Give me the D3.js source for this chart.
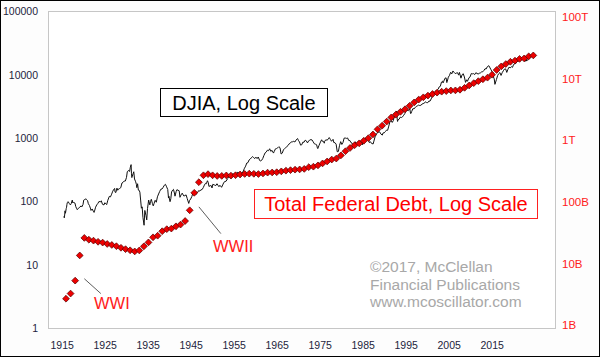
<!DOCTYPE html>
<html><head><meta charset="utf-8">
<script src="https://cdn.jsdelivr.net/npm/d3@7"></script>
<style>
html,body{margin:0;padding:0;background:#fdfdfd;}
svg{display:block;font-family:Arial,"Liberation Sans",sans-serif;}
</style></head><body>
<svg id="chart" width="600" height="357"></svg>
<script>
// ---------- DATA ----------
const xTickLabels = ["1915","1925","1935","1945","1955","1965","1975","1985","1995","2005","2015"];
const leftTickValues = [1, 10, 100, 1000, 10000, 100000];
const rightTickValues = [1e9, 1e10, 1e11, 1e12, 1e13, 1e14];
const rightTickLabels = ["1B", "10B", "100B", "1T", "10T", "100T"];

const debtYears = [1915,1916,1917,1918,1919,1920,1921,1922,1923,1924,1925,1926,1927,1928,1929,
1930,1931,1932,1933,1934,1935,1936,1937,1938,1939,1940,1941,1942,1943,1944,1945,1946,1947,1948,1949,
1950,1951,1952,1953,1954,1955,1956,1957,1958,1959,1960,1961,1962,1963,1964,1965,1966,1967,1968,1969,
1970,1971,1972,1973,1974,1975,1976,1977,1978,1979,1980,1981,1982,1983,1984,1985,1986,1987,1988,1989,
1990,1991,1992,1993,1994,1995,1996,1997,1998,1999,2000,2001,2002,2003,2004,2005,2006,2007,2008,2009,
2010,2011,2012,2013,2014,2015,2016,2017];
// billions of dollars
const debtBillions = [2.9,3.5,5.6,14.0,26.5,24.8,24.0,23.0,22.35,21.25,20.5,19.6,18.5,17.6,16.9,
16.2,16.8,19.5,22.5,27.1,28.7,33.8,36.4,37.2,40.4,43.0,49.0,72.4,136.7,201.0,258.7,269.4,258.3,252.3,252.8,
257.4,255.2,259.1,266.1,271.3,274.4,272.8,270.5,276.3,284.7,286.3,289.0,298.2,305.9,311.7,317.3,319.9,326.2,347.6,353.7,
370.9,398.1,427.3,458.1,475.1,533.2,620.4,698.8,771.5,826.5,907.7,997.9,1142,1377,1572,1823,2125,2350,2602,2857,
3233,3665,4065,4411,4693,4974,5225,5413,5526,5656,5674,5807,6228,6783,7379,7933,8507,9008,10025,11910,
13562,14790,16066,16738,17824,18151,19573,20245];

const djiaDates = [
"1915-01","1915-02","1915-03","1915-04","1915-05","1915-06","1915-07","1915-08","1915-09","1915-10","1915-11","1915-12",
"1916-03","1916-06","1916-08","1916-11","1916-12",
"1917-01","1917-03","1917-06","1917-08","1917-10","1917-12",
"1918-03","1918-05","1918-07","1918-10","1918-12",
"1919-03","1919-05","1919-07","1919-09","1919-11","1919-12",
"1920-03","1920-05","1920-08","1920-11","1920-12",
"1921-03","1921-06","1921-08","1921-10","1921-12",
"1922-03","1922-06","1922-09","1922-12",
"1923-03","1923-06","1923-10","1923-12",
"1924-03","1924-05","1924-08","1924-12",
"1925-03","1925-06","1925-09","1925-12",
"1926-02","1926-03","1926-05","1926-08","1926-10","1926-12",
"1927-03","1927-06","1927-09","1927-12",
"1928-03","1928-06","1928-09","1928-11","1928-12",
"1929-03","1929-05","1929-07","1929-09","1929-10","1929-11","1929-12",
"1930-02","1930-04","1930-06","1930-09","1930-11","1930-12",
"1931-02","1931-04","1931-06","1931-08","1931-10","1931-12",
"1932-02","1932-04","1932-07","1932-09","1932-12",
"1933-02","1933-04","1933-07","1933-10","1933-12",
"1934-02","1934-05","1934-07","1934-09","1934-12",
"1935-03","1935-06","1935-09","1935-12",
"1936-03","1936-06","1936-09","1936-12",
"1937-03","1937-06","1937-09","1937-11","1937-12",
"1938-03","1938-05","1938-07","1938-10","1938-12",
"1939-03","1939-04","1939-07","1939-09","1939-12",
"1940-03","1940-05","1940-08","1940-11","1940-12",
"1941-03","1941-06","1941-09","1941-12",
"1942-04","1942-06","1942-09","1942-12",
"1943-03","1943-07","1943-11","1943-12",
"1944-03","1944-06","1944-09","1944-12",
"1945-03","1945-06","1945-09","1945-12",
"1946-02","1946-05","1946-07","1946-09","1946-12",
"1947-03","1947-05","1947-07","1947-12",
"1948-03","1948-06","1948-09","1948-11","1948-12",
"1949-03","1949-06","1949-09","1949-12",
"1950-03","1950-06","1950-09","1950-12",
"1951-03","1951-06","1951-09","1951-12",
"1952-03","1952-06","1952-09","1952-12",
"1953-03","1953-06","1953-09","1953-12",
"1954-03","1954-06","1954-09","1954-12",
"1955-03","1955-06","1955-09","1955-12",
"1956-03","1956-06","1956-09","1956-12",
"1957-03","1957-06","1957-10","1957-12",
"1958-03","1958-06","1958-09","1958-12",
"1959-03","1959-06","1959-09","1959-12",
"1960-03","1960-06","1960-10","1960-12",
"1961-03","1961-06","1961-09","1961-12",
"1962-03","1962-06","1962-09","1962-12",
"1963-03","1963-06","1963-09","1963-12",
"1964-03","1964-06","1964-09","1964-12",
"1965-03","1965-06","1965-09","1965-12",
"1966-01","1966-03","1966-06","1966-09","1966-12",
"1967-03","1967-06","1967-09","1967-12",
"1968-03","1968-06","1968-09","1968-12",
"1969-03","1969-06","1969-09","1969-12",
"1970-03","1970-05","1970-06","1970-09","1970-12",
"1971-04","1971-06","1971-09","1971-11","1971-12",
"1972-03","1972-06","1972-09","1972-12",
"1973-01","1973-03","1973-06","1973-10","1973-12",
"1974-03","1974-06","1974-09","1974-12",
"1975-03","1975-06","1975-09","1975-12",
"1976-03","1976-06","1976-09","1976-12",
"1977-03","1977-06","1977-09","1977-12",
"1978-02","1978-06","1978-08","1978-10","1978-12",
"1979-03","1979-06","1979-09","1979-10","1979-12",
"1980-02","1980-03","1980-06","1980-09","1980-11","1980-12",
"1981-03","1981-06","1981-09","1981-12",
"1982-03","1982-07","1982-09","1982-12",
"1983-03","1983-06","1983-09","1983-12",
"1984-03","1984-07","1984-09","1984-12",
"1985-03","1985-06","1985-09","1985-12",
"1986-03","1986-06","1986-09","1986-12",
"1987-03","1987-06","1987-08","1987-09","1987-10","1987-11","1987-12",
"1988-03","1988-06","1988-09","1988-12",
"1989-03","1989-06","1989-09","1989-12",
"1990-03","1990-07","1990-09","1990-10","1990-12",
"1991-03","1991-06","1991-09","1991-12",
"1992-03","1992-06","1992-09","1992-12",
"1993-03","1993-06","1993-09","1993-12",
"1994-03","1994-06","1994-09","1994-12",
"1995-03","1995-06","1995-09","1995-12",
"1996-03","1996-06","1996-09","1996-12",
"1997-03","1997-06","1997-09","1997-10","1997-12",
"1998-03","1998-06","1998-08","1998-09","1998-12",
"1999-03","1999-06","1999-09","1999-12",
"2000-03","2000-06","2000-09","2000-12",
"2001-03","2001-05","2001-09","2001-12",
"2002-03","2002-06","2002-09","2002-12",
"2003-02","2003-06","2003-09","2003-12",
"2004-03","2004-06","2004-09","2004-12",
"2005-03","2005-06","2005-09","2005-12",
"2006-03","2006-06","2006-09","2006-12",
"2007-03","2007-06","2007-10","2007-12",
"2008-03","2008-06","2008-09","2008-11","2008-12",
"2009-02","2009-06","2009-09","2009-12",
"2010-03","2010-06","2010-09","2010-12",
"2011-03","2011-06","2011-09","2011-12",
"2012-03","2012-06","2012-09","2012-12",
"2013-03","2013-06","2013-09","2013-12",
"2014-03","2014-06","2014-09","2014-12",
"2015-03","2015-06","2015-09","2015-12",
"2016-01","2016-06","2016-09","2016-12",
"2017-01","2017-02","2017-03"];
const djiaValues = [
58,55,61,71,65,70,77,81,90,96,97,99,
93,88,92,105,95,
97,96,94,83,78,74,
78,80,81,85,82,
89,105,107,108,110,107,
103,92,86,76,72,
76,70,67,73,81,
88,93,100,98,
102,90,88,95,
92,89,104,120,
118,130,145,156,
160,140,138,162,150,157,
160,165,195,200,
210,210,240,293,300,
308,297,347,381,273,238,248,
272,294,226,204,184,165,
190,151,150,140,105,78,
82,56,42,72,60,
51,77,105,88,100,
108,92,85,92,104,
97,118,131,144,
156,157,167,180,
186,170,154,113,121,
99,110,141,151,155,
131,121,143,153,150,
147,116,127,135,131,
122,123,127,111,
93,103,109,119,
136,143,129,136,
138,148,146,152,
154,165,181,193,
190,212,200,172,177,
177,163,186,181,
178,190,178,171,177,
177,167,182,200,
206,209,226,235,
248,242,271,269,
270,274,271,292,
280,268,264,281,
303,334,361,404,
409,451,466,488,
511,492,475,500,
474,503,441,436,
446,478,532,584,
602,644,632,679,
616,641,580,616,
676,684,701,731,
706,561,579,652,
683,707,733,763,
813,832,875,874,
890,868,931,969,
984,924,870,774,786,
865,860,927,905,
840,897,936,944,
935,873,813,800,
785,700,683,760,839,
941,891,887,831,890,
940,929,953,1020,
1000,951,891,956,851,
847,802,608,616,
768,879,794,852,
999,1003,990,1005,
919,916,847,831,
742,819,876,793,805,
862,842,878,815,839,
863,786,868,932,993,964,
1004,977,850,875,
822,809,896,1047,
1130,1222,1233,1259,
1165,1115,1207,1212,
1267,1336,1329,1547,
1819,1893,1768,1896,
2305,2419,2663,2596,1994,1834,1939,
1988,2142,2113,2169,
2294,2440,2693,2753,
2707,2905,2453,2442,2634,
2914,2907,3017,3169,
3236,3319,3272,3301,
3436,3516,3555,3754,
3636,3625,3843,3834,
4158,4556,4789,5117,
5588,5655,5882,6448,
6584,7673,7945,7442,7908,
8800,8952,7539,7843,9181,
9786,10971,10337,11497,
10922,10448,10651,10787,
9879,10912,8848,10022,
10404,9243,7592,8342,
7891,8985,9275,10454,
10358,10435,10080,10783,
10504,10275,10569,10718,
11109,11150,11679,12463,
12354,13409,13930,13265,
12263,11350,10851,8829,8776,
7063,8447,9712,10428,
10857,9774,10788,11578,
12320,12414,10913,12218,
13212,12880,13437,13104,
14579,14910,15130,16577,
16458,16827,17043,17823,
17776,17620,16285,17425,
16466,17930,18308,19763,
19864,20812,20663];

// ---------- LAYOUT ----------
const W = 600, H = 357;
const plot = {left: 48, right: 555, top: 11, bottom: 328};
const svg = d3.select("#chart");
const font = "Arial, 'Liberation Sans', sans-serif";

// background & borders
svg.append("rect").attr("x",0).attr("y",0).attr("width",W).attr("height",H).attr("fill","#fdfdfd");
svg.append("rect").attr("x",plot.left+0.5).attr("y",plot.top+0.5)
  .attr("width",plot.right-plot.left).attr("height",plot.bottom-plot.top)
  .attr("fill","#ffffff").attr("stroke","#c6c6c6").attr("stroke-width",1);

// ---------- SCALES ----------
const toYear = s => { const [y,m] = s.split("-").map(Number); return y + (m-0.5)/12; };
const x = d3.scaleLinear().domain([1915.5, 2017.5]).range([66, 533.3]);
const yLeft = d3.scaleLog().domain([1, 1e5]).range([plot.bottom, plot.top+0.5]);
const yDebt = d3.scaleLog().domain([1e9, 1e14]).range([plot.bottom, plot.top+0.5]);
const yRightAxis = d3.scaleLog().domain([1e9, 1e14]).range([325, 17]);
const xLabels = d3.scalePoint().domain(xTickLabels).range([61.7, 491.7]);

// ---------- AXES ----------
const axisColor = "#1e1e3c";
const gl = svg.append("g").attr("transform",`translate(${plot.left},0)`)
  .call(d3.axisLeft(yLeft).tickValues(leftTickValues).tickFormat(d3.format("d")).tickSize(0).tickPadding(10));
gl.select(".domain").remove();
gl.selectAll("text").attr("fill",axisColor).style("font-size","10.5px").style("font-family",font);

const gr = svg.append("g").attr("transform",`translate(${plot.right},0)`)
  .call(d3.axisRight(yRightAxis).tickValues(rightTickValues)
    .tickFormat((d,i) => rightTickLabels[i]).tickSize(0).tickPadding(7));
gr.select(".domain").remove();
gr.selectAll("text").attr("fill","#ff2020").style("font-size","11.5px").style("font-family",font);

const gb = svg.append("g").attr("transform",`translate(0,${plot.bottom})`)
  .call(d3.axisBottom(xLabels).tickSize(0).tickPadding(14));
gb.select(".domain").remove();
gb.selectAll("text").attr("fill",axisColor).style("font-size","10.5px").style("font-family",font);

// ---------- DJIA LINE ----------
const djia = djiaDates.map((d,i) => ({t: toYear(d), v: djiaValues[i]}));
svg.append("path").datum(djia)
  .attr("d", d3.line().x(d => x(d.t)).y(d => yLeft(d.v)))
  .attr("fill","none").attr("stroke","#111").attr("stroke-width",1).attr("stroke-linejoin","round");

// ---------- DEBT MARKERS ----------
const debt = debtYears.map((yr,i) => ({t: yr + 0.5, v: debtBillions[i]*1e9}));
const diamond = d3.symbol().type(d3.symbolSquare).size(23);
svg.append("g").selectAll("path").data(debt).join("path")
  .attr("d", diamond)
  .attr("transform", d => `translate(${x(d.t)},${yDebt(d.v)}) rotate(45)`)
  .attr("fill","#ee0000").attr("stroke","#5a0000").attr("stroke-width",0.7);

// ---------- ANNOTATIONS ----------
svg.append("rect").attr("x",160.5).attr("y",88.5).attr("width",167).attr("height",28)
  .attr("fill","#ffffff").attr("stroke","#000").attr("stroke-width",1);
svg.append("text").attr("x",244).attr("y",110).attr("text-anchor","middle")
  .style("font-family",font).style("font-size","20px").attr("fill","#000").text("DJIA, Log Scale");
svg.append("rect").attr("x",254.5).attr("y",189.5).attr("width",283).attr("height",29)
  .attr("fill","#ffffff").attr("stroke","#ff2020").attr("stroke-width",1);
svg.append("text").attr("x",396).attr("y",211).attr("text-anchor","middle")
  .style("font-family",font).style("font-size","20px").attr("fill","#ff0000").text("Total Federal Debt, Log Scale");

svg.append("line")
  .attr("x1", x(1919.5)).attr("y1", yDebt(6.0e9))
  .attr("x2", x(1923.1)).attr("y2", yDebt(3.5e9))
  .attr("stroke","#333").attr("stroke-width",0.8);
svg.append("text").attr("x",94).attr("y",308.5)
  .style("font-family",font).style("font-size","16.5px").attr("fill","#ff2020").text("WWI");
svg.append("line")
  .attr("x1", x(1944.5)).attr("y1", yDebt(82e9))
  .attr("x2", x(1949.3)).attr("y2", yDebt(31e9))
  .attr("stroke","#333").attr("stroke-width",0.8);
svg.append("text").attr("x",213).attr("y",252)
  .style("font-family",font).style("font-size","16.5px").attr("fill","#ff2020").text("WWII");

const credit = ["\u00A92017, McClellan","Financial Publications","www.mcoscillator.com"];
svg.append("g").selectAll("text").data(credit).join("text")
  .attr("x",370).attr("y",(d,i) => 272 + i*17.5)
  .style("font-family",font).style("font-size","15.5px").attr("fill","#a8a8a8").text(d => d);

svg.append("rect").attr("x",0.5).attr("y",0.5).attr("width",W-1).attr("height",H-1)
  .attr("fill","none").attr("stroke","#000").attr("stroke-width",1);
</script>
</body></html>
